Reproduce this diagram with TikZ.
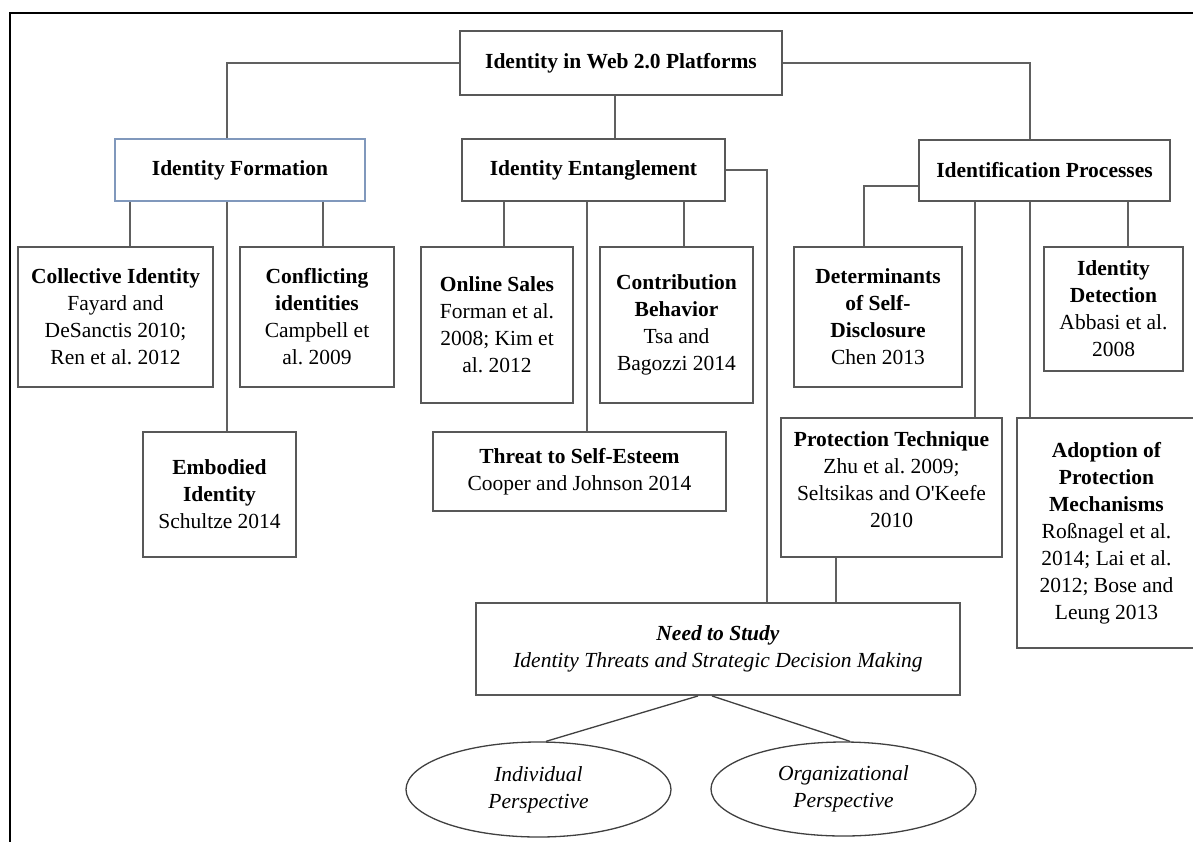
\documentclass[tikz,border=0pt]{standalone}
\usepackage{fontspec}
\setmainfont{Liberation Serif}
\usetikzlibrary{shapes.geometric}
\frenchspacing

\definecolor{boxgray}{RGB}{88,88,88}
\definecolor{linegray}{RGB}{96,96,96}
\definecolor{formblue}{RGB}{128,152,188}

\tikzset{
  box/.style={draw=boxgray, line width=1.9pt, fill=white, align=center,
              inner sep=0pt, font=\fontsize{21.5}{27}\selectfont},
  label text/.style={align=center, inner sep=0pt, font=\fontsize{21.5}{27}\selectfont},
  oval/.style={ellipse, draw=black!75, line width=1.3pt, fill=white, align=center,
               inner sep=0pt, font=\fontsize{21.5}{27}\selectfont},
  link/.style={draw=linegray, line width=1.9pt},
  thin link/.style={draw=black!75, line width=1.3pt},
  frame/.style={draw=black, line width=2.6pt}
}

\begin{document}
\begin{tikzpicture}[x=1pt, y=-1pt]
\useasboundingbox (0,0) rectangle (1193,841);
\clip (0,0) rectangle (1193,841);
\fill[white] (0,0) rectangle (1193,841);

% outer frame (top and left edges)
\draw[frame] (10,845) -- (10,13) -- (1193,13);

% root and second level
\node[box, minimum width=322pt, minimum height=64pt] (top) at (621,63)
  {\textbf{Identity in Web 2.0 Platforms}};
\node[box, draw=formblue, minimum width=250pt, minimum height=62pt] (form) at (240,170)
  {\textbf{Identity Formation}};
\node[box, minimum width=263pt, minimum height=62pt] (ent) at (593.5,170)
  {\textbf{Identity Entanglement}};
\node[box, minimum width=251pt, minimum height=61pt] (idp) at (1044.5,170.5)
  {\textbf{Identification Processes}};

% identity formation branch
\node[box, minimum width=195pt, minimum height=140pt] (coll) at (115.5,317)
  {\textbf{Collective Identity}\\Fayard and\\DeSanctis 2010;\\Ren et al. 2012};
\node[box, minimum width=154pt, minimum height=140pt] (conf) at (317,317)
  {\textbf{Conflicting}\\\textbf{identities}\\Campbell et\\al. 2009};
\node[box, minimum width=153pt, minimum height=125pt] (emb) at (219.5,494.5)
  {\textbf{Embodied}\\\textbf{Identity}\\Schultze 2014};

% identity entanglement branch
\node[box, minimum width=152pt, minimum height=156pt] (online) at (497,325)
  {\textbf{Online Sales}\\Forman et al.\\2008; Kim et\\al. 2012};
\node[box, minimum width=153pt, minimum height=156pt] (contrib) at (676.5,325)
  {\textbf{Contribution}\\\textbf{Behavior}\\Tsa and\\Bagozzi 2014};
\node[box, minimum width=293pt, minimum height=79pt] (threat) at (579.5,471.5)
  {\textbf{Threat to Self-Esteem}\\Cooper and Johnson 2014};

% identification processes branch
\node[box, minimum width=168pt, minimum height=140pt] (det) at (878,317)
  {\textbf{Determinants}\\\textbf{of Self-}\\\textbf{Disclosure}\\Chen 2013};
\node[box, minimum width=139pt, minimum height=124pt] (detect) at (1113.5,309)
  {\textbf{Identity}\\\textbf{Detection}\\Abbasi et al.\\2008};
\node[box, minimum width=221pt, minimum height=139pt] (prot) at (891.5,487.5) {};
\node[label text] (prottext) at (891.5,479.5)
  {\textbf{Protection Technique}\\Zhu et al. 2009;\\Seltsikas and O\textquotesingle Keefe\\2010};
\node[box, minimum width=179pt, minimum height=230pt] (adopt) at (1106.5,533)
  {\textbf{Adoption of}\\\textbf{Protection}\\\textbf{Mechanisms}\\Roßnagel et al.\\2014; Lai et al.\\2012; Bose and\\Leung 2013};

% research need and perspectives
\node[box, minimum width=484pt, minimum height=92pt] (need) at (718,649)
  {\textbf{\textit{Need to Study}}\\\textit{Identity Threats and Strategic Decision Making}};
\node[oval, minimum width=265pt, minimum height=95pt] (ind) at (538.5,789.5)
  {\textit{Individual}\\\textit{Perspective}};
\node[oval, minimum width=265pt, minimum height=94pt] (org) at (843.5,789)
  {\textit{Organizational}\\\textit{Perspective}};

% attachment points of the connectors
\coordinate (fa) at ([xshift=-13pt]form.north);
\coordinate (ea) at ([xshift=21.5pt]ent.north);
\coordinate (ia) at ([xshift=-14.5pt]idp.north);
\coordinate (na) at ([xshift=49pt]need.north);
\coordinate (ca) at ([xshift=14.5pt]coll.north);
\coordinate (ba) at ([xshift=7.5pt]emb.north);
\coordinate (cfa) at ([xshift=6pt]conf.north);
\coordinate (oa) at ([xshift=7pt]online.north);
\coordinate (ta) at ([xshift=7.5pt]threat.north);
\coordinate (cba) at ([xshift=7.5pt]contrib.north);
\coordinate (da) at ([xshift=-14pt]det.north);
\coordinate (iw) at ([yshift=-15.5pt]idp.west);
\coordinate (pa) at ([xshift=83.5pt]prot.north);
\coordinate (aa) at ([xshift=-76.5pt]adopt.north);
\coordinate (dta) at ([xshift=14.5pt]detect.north);
\coordinate (pb) at ([xshift=-55.5pt]prot.south);
\coordinate (nl) at ([xshift=-20pt]need.south);
\coordinate (nr) at ([xshift=-6pt]need.south);
\coordinate (il) at ([xshift=7.5pt]ind.north);
\coordinate (or) at ([xshift=6.5pt]org.north);

% connectors
\draw[link] (fa) |- (top.west);
\draw[link] (ea) -- (ea |- top.south);
\draw[link] (top.east) -| (ia);
\draw[link] (ent.east) -| (na);
\draw[link] (ca) -- (ca |- form.south);
\draw[link] (ba) -- (ba |- form.south);
\draw[link] (cfa) -- (cfa |- form.south);
\draw[link] (oa) -- (oa |- ent.south);
\draw[link] (ta) -- (ta |- ent.south);
\draw[link] (cba) -- (cba |- ent.south);
\draw[link] (iw) -| (da);
\draw[link] (pa) -- (pa |- idp.south);
\draw[link] (aa) -- (aa |- idp.south);
\draw[link] (dta) -- (dta |- idp.south);
\draw[link] (pb) -- (pb |- need.north);
\draw[thin link] (nl) -- (il);
\draw[thin link] (nr) -- (or);
\end{tikzpicture}
\end{document}
